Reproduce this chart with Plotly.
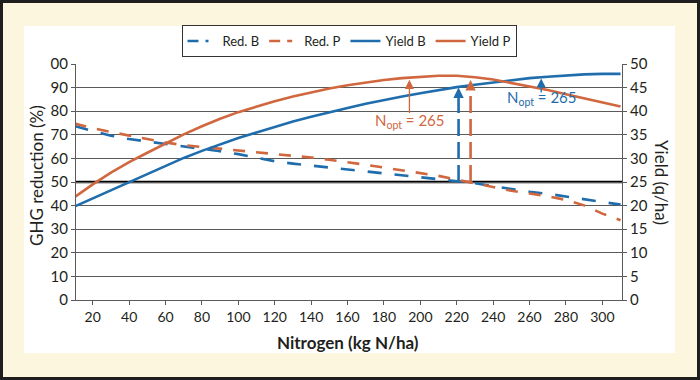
import plotly.graph_objects as go

# ---------------- data ----------------
nitrogen = [10, 20, 30, 40, 50, 60, 70, 80, 90, 100, 110, 120, 130, 140, 150, 160,
            170, 180, 190, 200, 210, 220, 230, 240, 250, 260, 270, 280, 290, 300, 310]

red_b = [73.7, 71.6, 69.6, 68.2, 67.2, 66.2, 65.2, 64.1, 63.0, 61.8, 60.3, 58.8, 57.8,
         57.0, 56.0, 55.2, 54.5, 53.8, 52.8, 52.0, 51.2, 50.5, 49.5, 48.2, 47.0, 45.9,
         45.0, 43.9, 42.7, 41.6, 40.4]

red_p = [74.8, 72.8, 71.2, 69.7, 68.0, 66.7, 65.6, 64.8, 64.1, 63.5, 62.7, 61.8, 61.1,
         60.4, 59.5, 58.4, 57.3, 56.1, 54.9, 53.7, 52.6, 51.0, 49.4, 47.7, 46.3, 45.1,
         44.0, 42.4, 40.1, 36.6, 33.8]

yield_b = [19.8, 21.5, 23.3, 25.0, 26.7, 28.4, 30.1, 31.6, 33.0, 34.3, 35.5, 36.7, 37.8,
           38.8, 39.8, 40.7, 41.6, 42.4, 43.1, 43.8, 44.5, 45.1, 45.6, 46.1, 46.6, 47.0,
           47.3, 47.6, 47.8, 47.9, 47.9]

yield_p = [21.8, 24.5, 27.0, 29.2, 31.2, 33.2, 35.1, 36.8, 38.4, 39.8, 41.0, 42.1, 43.1,
           44.0, 44.8, 45.5, 46.1, 46.6, 47.0, 47.3, 47.5, 47.5, 47.2, 46.7, 46.0, 45.3,
           44.5, 43.6, 42.7, 41.8, 41.0]

# optimum markers (vertical dashed arrows), x position and arrow tip (GHG % scale)
opt_names = ["B", "P"]
opt_x = [221, 227.6]
opt_base = [50, 50]
opt_tip = [90, 93.2]

# N_opt labels: arrow x, arrow tip, arrow tail, label y (GHG % scale)
nopt_text = ["N<sub>opt</sub> = 265", "N<sub>opt</sub> = 265"]
nopt_x = [266.4, 194.0]
nopt_tip = [93.9, 93.3]
nopt_tail = [87.3, 78.6]
nopt_label_y = [85.4, 75.8]

x_ticks = list(range(20, 301, 20))
y_ticks = list(range(0, 101, 10))
y_ticktext = [str(v) for v in y_ticks[:-1]] + ["00"]
y2_ticks = list(range(0, 51, 5))

# ---------------- style ----------------
BLUE = "#1f6dad"
ORANGE = "#d0673f"
TXT = "#231f20"
GRID = "#5a5a5a"
CREAM = "#fcf6de"
FONT = "Lato"

L, R, T, B = 76, 78, 64, 80
W, H = 700 - L - R, 380 - T - B


def px(p):
    return (p - L) / W


def py(p):
    return (380 - B - p) / H


fig = go.Figure()

fig.add_trace(go.Scatter(x=nitrogen, y=red_b, mode="lines", name="Red. B",
                         line=dict(color=BLUE, width=2.6, dash="14px,13px"),
                         showlegend=False))
fig.add_trace(go.Scatter(x=nitrogen, y=red_p, mode="lines", name="Red. P",
                         line=dict(color=ORANGE, width=2.6, dash="12px,11px"),
                         showlegend=False))

for i, c in enumerate([BLUE, ORANGE]):
    fig.add_trace(go.Scatter(x=[opt_x[i], opt_x[i]], y=[opt_base[i], opt_tip[i] - 4],
                             mode="lines", line=dict(color=c, width=2.6, dash="17px,6px"),
                             showlegend=False, hoverinfo="skip"))

fig.add_trace(go.Scatter(x=nitrogen, y=yield_b, mode="lines", name="Yield B", yaxis="y2",
                         line=dict(color=BLUE, width=2.6), showlegend=False))
fig.add_trace(go.Scatter(x=nitrogen, y=yield_p, mode="lines", name="Yield P", yaxis="y2",
                         line=dict(color=ORANGE, width=2.6), showlegend=False))

# legend entries (styled like the reference legend samples)
legend_items = [("Red. B", BLUE, "11px,7px,3px,30px"),
                ("Red. P", ORANGE, "11px,7px,5px,30px"),
                ("Yield B", BLUE, "solid"),
                ("Yield P", ORANGE, "solid")]
for name, c, d in legend_items:
    fig.add_trace(go.Scatter(x=[None], y=[None], mode="lines", name=name,
                             line=dict(color=c, width=2.6, dash=d)))

annotations = []
# big arrow heads
for i, c in enumerate([BLUE, ORANGE]):
    annotations.append(dict(x=opt_x[i], y=opt_tip[i], ax=opt_x[i], ay=opt_tip[i] - 4.5,
                            xref="x", yref="y", axref="x", ayref="y", text="",
                            showarrow=True, arrowhead=2, arrowsize=0.8, arrowwidth=2.6,
                            arrowcolor=c))
# N_opt arrows and labels
for i, c in enumerate([BLUE, ORANGE]):
    annotations.append(dict(x=nopt_x[i], y=nopt_tip[i], ax=nopt_x[i], ay=nopt_tail[i],
                            xref="x", yref="y", axref="x", ayref="y", text="",
                            showarrow=True, arrowhead=2, arrowsize=1.4, arrowwidth=1.3,
                            arrowcolor=c))
    annotations.append(dict(x=nopt_x[i], y=nopt_label_y[i], xref="x", yref="y",
                            text=nopt_text[i], showarrow=False,
                            xanchor="center", yanchor="middle",
                            font=dict(family=FONT, size=15, color=c)))
# axis titles
annotations.append(dict(x=px(36), y=py(176), xref="paper", yref="paper",
                        text="GHG reduction (%)", textangle=-90, showarrow=False,
                        xanchor="center", yanchor="middle",
                        font=dict(family=FONT, size=17, color=TXT)))
annotations.append(dict(x=px(662), y=py(182), xref="paper", yref="paper",
                        text="Yield (q/ha)", textangle=90, showarrow=False,
                        xanchor="center", yanchor="middle",
                        font=dict(family=FONT, size=17, color=TXT)))
annotations.append(dict(x=px(348), y=py(342), xref="paper", yref="paper",
                        text="<b>Nitrogen (kg N/ha)</b>", showarrow=False,
                        xanchor="center", yanchor="middle",
                        font=dict(family=FONT, size=17, color=TXT)))

shapes = [
    # white inner panel
    dict(type="rect", xref="paper", yref="paper", x0=px(24), x1=px(675), y0=py(353), y1=py(26),
         fillcolor="white", line=dict(width=0), layer="below"),
    # dark outer frame
    dict(type="rect", xref="paper", yref="paper", x0=px(1.5), x1=px(698.5), y0=py(378.5),
         y1=py(1.5), fillcolor="rgba(0,0,0,0)", line=dict(color="#1e1e1e", width=3),
         layer="above"),
    # 50 % reference line
    dict(type="line", xref="x domain", yref="y", x0=0, x1=1, y0=50, y1=50,
         line=dict(color="#000000", width=2.5), layer="below"),
]

fig.update_layout(
    width=700, height=380,
    margin=dict(l=L, r=R, t=T, b=B, autoexpand=False),
    paper_bgcolor=CREAM, plot_bgcolor="white",
    font=dict(family=FONT, size=14, color=TXT),
    showlegend=True,
    legend=dict(orientation="h", x=0.5, xanchor="center", y=py(25), yanchor="top",
                bgcolor="white", bordercolor="#333333", borderwidth=1,
                font=dict(family=FONT, size=13, color=TXT), itemwidth=30,
                tracegroupgap=0),
    xaxis=dict(range=[10.8, 310.8], tickvals=x_ticks, showgrid=False, zeroline=False,
               showline=True, linecolor=GRID, linewidth=1, ticks="outside", ticklen=4,
               tickcolor=GRID, tickfont=dict(family=FONT, size=14, color=TXT)),
    yaxis=dict(range=[0, 100], tickvals=y_ticks, ticktext=y_ticktext, showgrid=True,
               gridcolor=GRID, gridwidth=1, zeroline=False, showline=True, linecolor=GRID,
               linewidth=1, ticks="outside", ticklen=4, tickcolor=GRID,
               tickfont=dict(family=FONT, size=15, color=TXT)),
    yaxis2=dict(range=[0, 50], tickvals=y2_ticks, overlaying="y", side="right",
                showgrid=False, zeroline=False, showline=True, linecolor=GRID, linewidth=1,
                ticks="outside", ticklen=4, tickcolor=GRID,
                tickfont=dict(family=FONT, size=15, color=TXT)),
    annotations=annotations,
    shapes=shapes,
)

fig.write_html("out.html", config={"displayModeBar": False},
               post_script="document.body.style.margin='0';document.body.style.overflow='hidden';")
